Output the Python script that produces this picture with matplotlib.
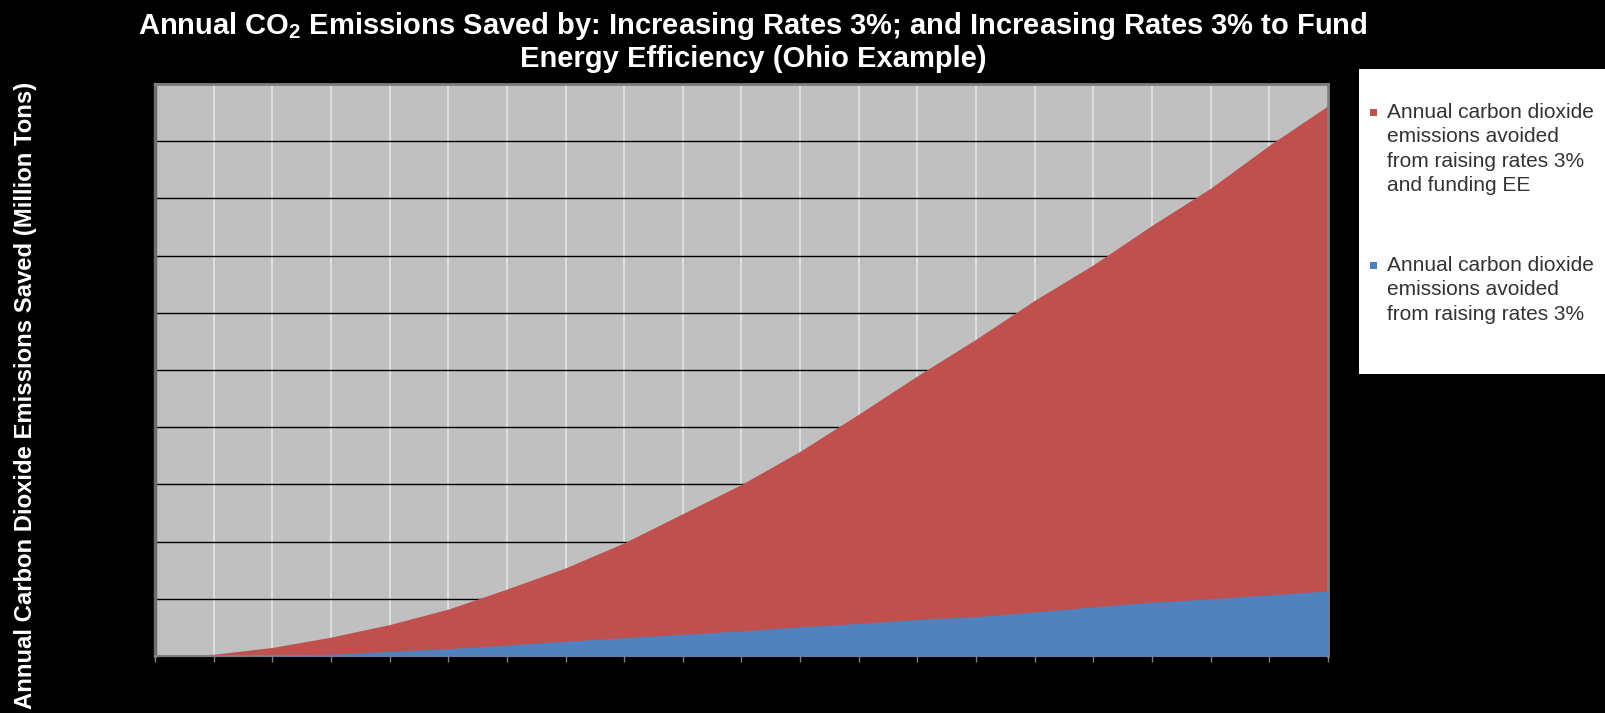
import matplotlib
matplotlib.use("Agg")
import matplotlib.pyplot as plt
from matplotlib.patches import Rectangle

# Data: annual CO2 savings (million tons), one value per year
years = list(range(2010, 2031))
rates_and_ee = [0.00, 0.03, 0.15, 0.33, 0.55, 0.82, 1.17, 1.54, 1.98, 2.49, 3.00,
                3.58, 4.23, 4.90, 5.54, 6.22, 6.84, 7.53, 8.18, 8.93, 9.62]
rates_only = [0.00, 0.00, 0.005, 0.03, 0.08, 0.13, 0.19, 0.26, 0.32, 0.38, 0.44,
              0.51, 0.57, 0.64, 0.69, 0.77, 0.86, 0.94, 1.00, 1.07, 1.14]
y_ticks = list(range(0, 11))

label_ee = "Annual carbon dioxide\nemissions avoided\nfrom raising rates 3%\nand funding EE"
label_rates = "Annual carbon dioxide\nemissions avoided\nfrom raising rates 3%"

RED = "#C0504D"
BLUE = "#4F81BD"

plt.rcParams["font.family"] = ["Liberation Sans", "DejaVu Sans"]
plt.rcParams["mathtext.fontset"] = "custom"
plt.rcParams["mathtext.rm"] = "Liberation Sans:bold"
plt.rcParams["mathtext.default"] = "rm"

W, H = 1606, 713
fig = plt.figure(figsize=(W / 100, H / 100), dpi=100, facecolor="black")

x0, x1, y0, y1 = 155, 1328, 84, 656
ax = fig.add_axes([x0 / W, 1 - y1 / H, (x1 - x0) / W, (y1 - y0) / H])
ax.set_facecolor("#C0C0C0")
ax.set_axisbelow(True)

xs = list(range(len(years)))
ax.fill_between(xs, 0, rates_and_ee, color=RED, linewidth=0, zorder=2)
ax.fill_between(xs, 0, rates_only, color=BLUE, linewidth=0, zorder=3)

ax.set_xlim(0, len(years) - 1)
ax.set_ylim(y_ticks[0], y_ticks[-1])
ax.set_xticks(xs)
ax.set_xticklabels([str(y) for y in years])
ax.set_yticks(y_ticks)

ax.grid(axis="y", color="black", linewidth=1.0)
ax.grid(axis="x", color="#E2E2E2", linewidth=1.3)

ax.tick_params(axis="x", direction="out", length=4, width=1, color="#808080",
               labelcolor="black", labelsize=9)
ax.tick_params(axis="y", length=0, labelcolor="black", labelsize=9)

for side in ("top", "right"):
    ax.spines[side].set_color("#808080")
    ax.spines[side].set_linewidth(2.0)
ax.spines["left"].set_color("#6E6E6E")
ax.spines["left"].set_linewidth(2.5)
ax.spines["bottom"].set_color("#808080")
ax.spines["bottom"].set_linewidth(1.5)

# Title
fig.text(753 / W, 1 - 26 / H,
         r"Annual CO$_{2}$ Emissions Saved by: Increasing Rates 3%; and Increasing Rates 3% to Fund",
         color="white", fontsize=21, fontweight="bold", ha="center", va="center")
fig.text(753 / W, 1 - 59 / H, "Energy Efficiency (Ohio Example)",
         color="white", fontsize=21, fontweight="bold", ha="center", va="center")

# Y-axis label
fig.text(26 / W, 1 - 395 / H, "Annual Carbon Dioxide Emissions Saved (Million Tons)",
         color="white", fontsize=17.2, fontweight="bold", rotation=90,
         ha="center", va="center")

# Legend panel
px = lambda v: v / W
py = lambda v: 1 - v / H
fig.patches.append(Rectangle((px(1359), py(374)), px(1606) - px(1359), py(69) - py(374),
                             transform=fig.transFigure, facecolor="white",
                             edgecolor="none", zorder=5))
entries = [(RED, label_ee, 113), (BLUE, label_rates, 266)]
for color, text, ytop in entries:
    fig.patches.append(Rectangle((px(1370), py(ytop + 3)), px(7), 7 / H,
                                 transform=fig.transFigure, facecolor=color,
                                 edgecolor="none", zorder=6))
    fig.text(px(1387), py(ytop - 10), text, color="#333333", fontsize=15,
             ha="left", va="top", linespacing=1.36, zorder=7)

fig.savefig("out.png", dpi=100, facecolor="black")
